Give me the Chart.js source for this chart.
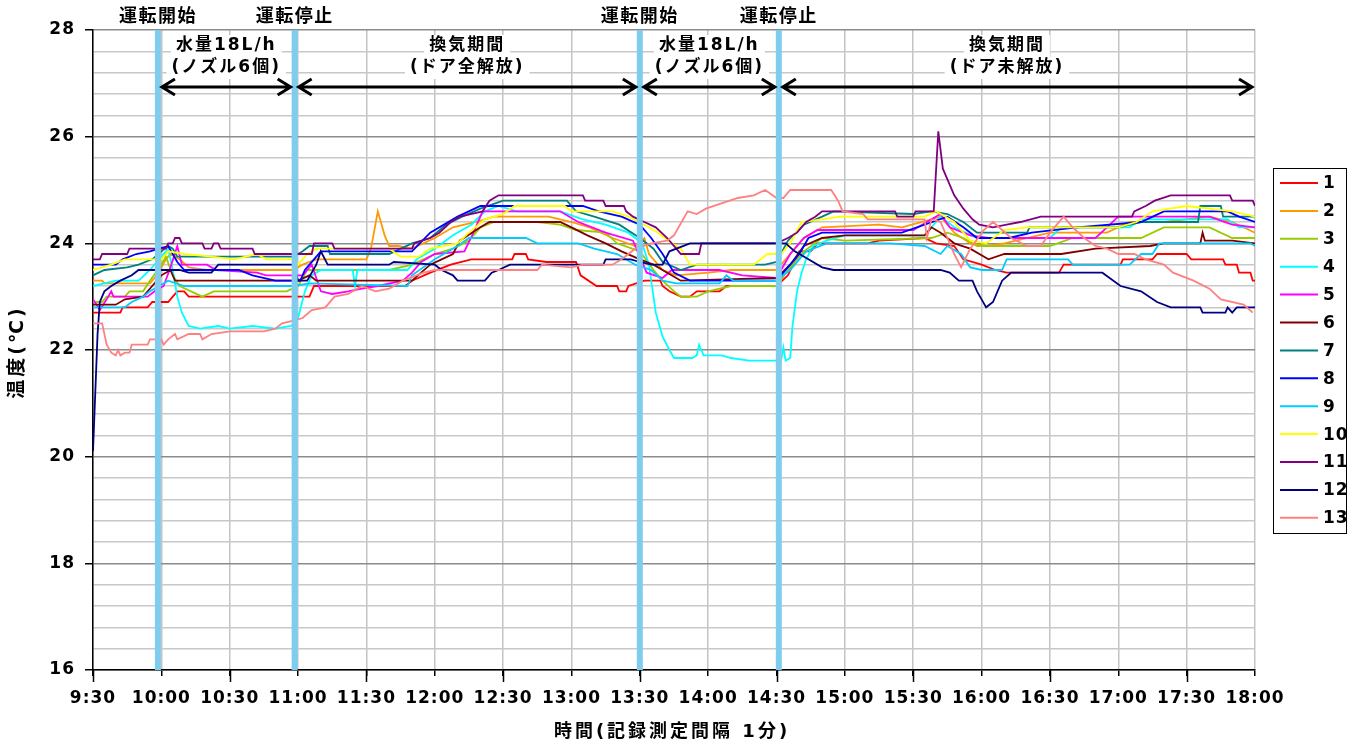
<!DOCTYPE html>
<html lang="ja">
<head>
<meta charset="utf-8">
<title>温度推移</title>
<script src="https://cdn.jsdelivr.net/npm/chart.js@4.4.1/dist/chart.umd.min.js"></script>
<style>
  html, body { margin: 0; padding: 0; background: #fff; }
  #wrap { width: 1356px; height: 744px; }
</style>
</head>
<body>
<div id="wrap"><canvas id="chart" width="1356" height="744"></canvas></div>
<script>
// x = minutes after 9:30, y = temperature (°C)
const timeLabels = ['9:30', '10:00', '10:30', '11:00', '11:30', '12:00', '12:30', '13:00', '13:30',
  '14:00', '14:30', '15:00', '15:30', '16:00', '16:30', '17:00', '17:30', '18:00'];
const seriesNames = ['1', '2', '3', '4', '5', '6', '7', '8', '9', '10', '11', '12', '13'];

// spray on / off times and the period notes between them
const eventTimes = [28.5, 88.5, 240, 301, 510];
const eventNames = ['運転開始', '運転停止', '運転開始', '運転停止'];
const periodNotes = [
  ['水量18L/h', '(ノズル6個)'],
  ['換気期間', '(ドア全解放)'],
  ['水量18L/h', '(ノズル6個)'],
  ['換気期間', '(ドア未解放)']
];

const s1 = [[0,22.7],[12,22.7],[13,22.8],[24,22.8],[26,22.9],[33,22.9],[35,23.0],[37,23.1],[40,23.1],[42,23.0],[95,23.0],[97,23.2],[137,23.2],[140,23.3],[148,23.45],[157,23.6],[166,23.7],[184,23.7],[185,23.8],[190,23.8],[191,23.7],[199,23.65],[212,23.65],[214,23.4],[221,23.2],[230,23.2],[231,23.1],[234,23.1],[235,23.2],[242,23.3],[249,23.3],[250,23.2],[253,23.1],[258,23.0],[262,23.0],[265,23.1],[275,23.1],[278,23.2],[300,23.2],[305,23.4],[310,23.85],[315,23.85],[318,24.0],[340,24.0],[345,24.05],[365,24.1],[370,24.0],[378,23.95],[382,23.7],[390,23.6],[396,23.5],[401,23.45],[424,23.45],[426,23.6],[451,23.6],[452,23.7],[465,23.7],[467,23.8],[480,23.8],[482,23.7],[496,23.7],[497,23.6],[502,23.6],[503,23.45],[508,23.45],[509,23.3],[510,23.3]];
const s2 = [[0,23.3],[4,23.3],[5,23.25],[25,23.25],[28,23.4],[32,23.7],[34,23.8],[38,23.7],[42,23.55],[50,23.5],[88,23.5],[92,23.6],[98,23.7],[120,23.7],[122,23.9],[125,24.6],[128,24.15],[130,23.95],[134,23.95],[140,23.9],[150,24.1],[158,24.3],[168,24.4],[176,24.5],[200,24.5],[210,24.4],[218,24.3],[228,24.1],[238,23.95],[242,24.1],[244,23.8],[250,23.5],[256,23.4],[270,23.45],[280,23.5],[300,23.5],[306,23.8],[312,24.1],[320,24.3],[345,24.35],[355,24.3],[368,24.45],[372,24.5],[378,24.2],[385,24.0],[392,23.95],[400,24.0],[420,24.2],[445,24.2],[455,24.4],[470,24.4],[490,24.5],[500,24.4],[510,24.2]];
const s3 = [[0,22.9],[4,22.9],[6,23.0],[14,23.0],[16,23.1],[22,23.1],[25,23.3],[30,23.6],[32,23.75],[35,23.4],[38,23.2],[43,23.1],[48,23.0],[53,23.1],[85,23.1],[90,23.2],[94,23.5],[130,23.5],[140,23.6],[150,23.8],[158,23.9],[165,24.05],[170,24.3],[176,24.4],[195,24.4],[205,24.35],[212,24.25],[225,24.2],[230,24.0],[240,23.85],[246,23.5],[250,23.3],[255,23.1],[258,23.0],[265,23.0],[270,23.1],[280,23.2],[300,23.2],[305,23.5],[312,23.85],[320,24.1],[330,24.05],[368,24.1],[375,24.2],[382,24.1],[388,23.95],[420,23.95],[430,24.1],[460,24.1],[470,24.3],[490,24.3],[500,24.1],[510,24.1]];
const s4 = [[0,23.2],[10,23.3],[20,23.3],[25,23.5],[30,23.75],[33,23.9],[35,23.5],[37,23.0],[39,22.7],[42,22.45],[47,22.4],[55,22.45],[60,22.4],[70,22.45],[80,22.4],[87,22.45],[90,22.6],[93,23.1],[96,23.4],[100,23.5],[114,23.5],[115,23.2],[116,23.5],[138,23.5],[142,23.7],[150,23.9],[158,24.15],[166,24.35],[172,24.6],[178,24.7],[186,24.6],[205,24.6],[215,24.45],[225,24.35],[235,24.2],[241,24.0],[244,23.6],[247,22.7],[250,22.25],[253,22.0],[255,21.85],[263,21.85],[265,21.9],[266,22.1],[268,21.9],[276,21.9],[280,21.85],[288,21.8],[302,21.8],[303,22.05],[304,21.8],[306,21.85],[307,22.45],[309,23.1],[311,23.45],[313,23.7],[316,23.95],[322,24.05],[330,24.15],[365,24.15],[372,24.5],[378,24.3],[388,24.1],[420,24.1],[425,24.3],[455,24.3],[460,24.45],[498,24.45],[503,24.3],[510,24.3]];
const s5 = [[0,22.95],[3,22.75],[6,22.95],[8,23.1],[9,23.0],[24,23.0],[27,23.1],[31,23.2],[34,23.55],[37,23.95],[39,23.6],[50,23.6],[54,23.5],[72,23.45],[76,23.4],[92,23.4],[96,23.6],[100,23.1],[105,23.05],[112,23.1],[118,23.15],[125,23.2],[136,23.3],[140,23.45],[144,23.65],[150,23.8],[163,23.85],[167,24.2],[171,24.6],[205,24.6],[213,24.4],[225,24.2],[237,24.05],[240,23.75],[243,23.45],[250,23.35],[254,23.5],[275,23.5],[285,23.4],[300,23.35],[306,23.8],[312,24.1],[318,24.25],[360,24.25],[372,24.55],[376,24.3],[385,24.15],[393,24.1],[440,24.1],[445,24.3],[450,24.5],[490,24.5],[500,24.35],[510,24.3]];
const s6 = [[0,22.85],[10,22.85],[14,22.95],[22,23.0],[26,23.2],[30,23.4],[34,23.5],[36,23.3],[90,23.3],[95,23.4],[98,23.3],[140,23.3],[144,23.45],[148,23.6],[153,23.7],[158,23.8],[161,24.05],[170,24.3],[174,24.4],[205,24.4],[210,24.3],[217,24.15],[225,24.0],[232,23.85],[240,23.7],[246,23.6],[252,23.45],[258,23.3],[300,23.35],[306,23.6],[312,23.95],[320,24.1],[330,24.15],[365,24.15],[368,24.3],[372,24.2],[378,24.0],[385,23.9],[393,23.7],[400,23.8],[425,23.8],[440,23.9],[464,23.95],[470,24.0],[486,24.0],[487,24.2],[488,24.05],[500,24.05],[510,24.0]];
const s7 = [[0,23.4],[5,23.5],[15,23.55],[20,23.6],[26,23.7],[30,23.85],[33,23.95],[35,23.9],[37,23.75],[88,23.75],[92,23.85],[95,23.95],[103,23.95],[104,23.8],[130,23.8],[140,24.0],[148,24.1],[155,24.35],[162,24.5],[170,24.65],[180,24.8],[208,24.8],[212,24.6],[220,24.5],[231,24.35],[240,24.1],[246,23.9],[250,23.65],[258,23.5],[265,23.6],[295,23.6],[300,23.65],[305,24.05],[312,24.35],[320,24.5],[325,24.6],[360,24.55],[368,24.6],[375,24.55],[382,24.4],[388,24.2],[410,24.2],[411,24.3],[450,24.3],[460,24.4],[485,24.4],[486,24.7],[495,24.7],[496,24.5],[510,24.5]];
const s8 = [[0,23.6],[10,23.6],[13,23.7],[19,23.8],[25,23.85],[33,23.95],[37,23.65],[40,23.5],[64,23.5],[70,23.4],[80,23.3],[91,23.3],[93,23.5],[97,23.7],[100,23.85],[140,23.85],[148,24.2],[160,24.5],[170,24.7],[215,24.7],[222,24.6],[232,24.5],[240,24.35],[245,24.1],[250,23.8],[255,23.45],[262,23.3],[300,23.3],[306,23.6],[310,23.8],[314,24.1],[320,24.2],[355,24.2],[375,24.5],[382,24.3],[388,24.1],[402,24.1],[412,24.2],[432,24.3],[460,24.4],[470,24.6],[498,24.6],[503,24.5],[510,24.4]];
const s9 = [[0,22.8],[14,22.8],[17,22.9],[22,23.0],[25,23.1],[29,23.2],[33,23.3],[40,23.2],[88,23.2],[95,23.25],[138,23.2],[140,23.4],[150,23.7],[160,23.95],[165,24.1],[190,24.1],[195,24.0],[213,24.0],[220,23.9],[230,23.8],[238,23.6],[245,23.5],[250,23.3],[256,23.25],[275,23.25],[278,23.4],[281,23.3],[300,23.3],[306,23.5],[313,23.85],[322,24.0],[350,24.0],[365,23.95],[372,23.8],[375,23.95],[381,23.8],[385,23.55],[390,23.5],[399,23.5],[401,23.7],[428,23.7],[430,23.6],[455,23.6],[460,23.8],[465,23.8],[468,24.0],[508,24.0],[510,23.95]];
const s10 = [[0,23.5],[8,23.6],[14,23.7],[30,23.7],[33,23.85],[40,23.8],[52,23.75],[62,23.7],[72,23.8],[76,23.7],[88,23.7],[90,23.6],[94,23.8],[98,23.9],[130,23.9],[135,23.75],[143,23.75],[148,23.9],[160,24.0],[165,24.2],[172,24.45],[180,24.55],[185,24.7],[207,24.7],[210,24.6],[228,24.6],[235,24.5],[242,24.35],[248,24.2],[254,24.0],[258,23.9],[262,23.6],[290,23.6],[296,23.8],[302,23.8],[306,24.0],[311,24.4],[320,24.45],[328,24.5],[365,24.5],[370,24.6],[378,24.4],[385,24.05],[392,24.0],[400,24.25],[410,24.3],[450,24.3],[458,24.4],[465,24.6],[480,24.7],[500,24.6],[510,24.5]];
const s11 = [[0,23.7],[3,23.7],[4,23.8],[15,23.8],[16,23.9],[32,23.9],[33,24.0],[35,24.0],[36,24.1],[38,24.1],[39,24.0],[48,24.0],[49,23.9],[52,23.9],[53,24.0],[55,24.0],[56,23.9],[70,23.9],[71,23.8],[96,23.8],[97,24.0],[105,24.0],[106,23.9],[140,23.9],[141,24.0],[148,24.1],[152,24.2],[157,24.4],[161,24.5],[171,24.6],[174,24.8],[178,24.9],[215,24.9],[216,24.8],[224,24.8],[225,24.7],[233,24.7],[234,24.6],[237,24.5],[242,24.4],[247,24.3],[252,24.1],[256,23.9],[258,23.8],[266,23.8],[267,24.0],[300,24.0],[305,24.1],[309,24.2],[313,24.4],[317,24.5],[320,24.6],[352,24.6],[353,24.5],[360,24.5],[361,24.6],[369,24.6],[371,26.1],[373,25.4],[375,25.2],[378,24.9],[382,24.65],[386,24.45],[389,24.35],[395,24.3],[401,24.35],[407,24.4],[416,24.5],[456,24.5],[457,24.6],[462,24.7],[466,24.8],[473,24.9],[499,24.9],[500,24.8],[509,24.8],[510,24.7]];
const s12 = [[0,20.1],[1,21.2],[2,22.3],[3,22.9],[5,23.1],[8,23.2],[12,23.3],[17,23.4],[20,23.5],[38,23.5],[42,23.45],[52,23.45],[55,23.6],[88,23.6],[90,23.3],[94,23.3],[98,23.6],[100,23.85],[103,23.6],[130,23.6],[132,23.65],[150,23.6],[153,23.5],[158,23.4],[160,23.3],[172,23.3],[175,23.45],[178,23.5],[183,23.6],[224,23.6],[225,23.7],[236,23.7],[240,23.65],[245,23.6],[250,23.6],[253,23.85],[262,24.0],[304,24.0],[308,23.85],[314,23.7],[320,23.55],[325,23.5],[372,23.5],[376,23.45],[380,23.3],[386,23.3],[388,23.1],[390,22.95],[392,22.8],[395,22.9],[399,23.3],[403,23.45],[443,23.45],[451,23.2],[460,23.1],[467,22.9],[473,22.8],[486,22.8],[487,22.7],[497,22.7],[498,22.8],[500,22.7],[502,22.8],[510,22.8]];
const s13 = [[0,22.5],[4,22.5],[6,22.1],[8,21.95],[10,21.9],[11,22.0],[12,21.9],[14,21.95],[16,21.95],[17,22.1],[24,22.1],[25,22.2],[30,22.2],[31,22.1],[33,22.2],[36,22.3],[37,22.2],[42,22.3],[47,22.3],[48,22.2],[52,22.3],[60,22.35],[75,22.35],[80,22.4],[83,22.5],[88,22.55],[92,22.6],[96,22.75],[102,22.8],[106,23.0],[112,23.05],[118,23.2],[124,23.1],[130,23.15],[136,23.3],[145,23.45],[150,23.5],[195,23.5],[197,23.6],[210,23.55],[215,23.6],[228,23.6],[232,23.7],[238,23.9],[245,24.0],[252,24.05],[255,24.15],[261,24.6],[265,24.55],[269,24.65],[283,24.85],[290,24.9],[295,25.0],[300,24.85],[303,24.85],[306,25.0],[324,25.0],[327,24.8],[329,24.6],[338,24.55],[340,24.45],[365,24.45],[366,24.1],[368,24.45],[372,24.4],[375,24.1],[378,23.8],[381,23.55],[385,23.9],[391,24.25],[395,24.4],[399,24.25],[403,24.1],[410,23.95],[416,23.95],[420,24.2],[426,24.5],[430,24.3],[435,24.1],[440,23.95],[445,23.9],[450,23.8],[457,23.8],[462,23.7],[470,23.6],[474,23.45],[483,23.3],[490,23.15],[495,22.95],[505,22.85],[509,22.7]];

const allSeries = [s1, s2, s3, s4, s5, s6, s7, s8, s9, s10, s11, s12, s13];
const colors = ['#ff0000', '#ff9900', '#99cc00', '#00ffff', '#ff00ff', '#800000', '#008080',
  '#0000ff', '#00ccff', '#ffff00', '#800080', '#000080', '#ff8080'];

const FONT = "'DejaVu Sans', 'Noto Sans CJK JP', sans-serif";
Chart.defaults.font.family = FONT;
Chart.defaults.font.weight = 'bold';
Chart.defaults.font.size = 17;
Chart.defaults.color = '#000';

function isMajor(v) {
  const r = Math.round(v);
  return Math.abs(v - r) < 1e-6 && r % 2 === 0;
}

function drawArrow(ctx, x1, x2, y) {
  ctx.beginPath();
  ctx.moveTo(x1, y); ctx.lineTo(x2, y);
  ctx.moveTo(x1 + 13, y - 8); ctx.lineTo(x1, y); ctx.lineTo(x1 + 13, y + 8);
  ctx.moveTo(x2 - 13, y - 8); ctx.lineTo(x2, y); ctx.lineTo(x2 - 13, y + 8);
  ctx.stroke();
}

const overlay = {
  id: 'overlay',
  beforeDraw(chart) {
    chart.ctx.letterSpacing = '1px';
  },
  afterDatasetsDraw(chart) {
    const {ctx, chartArea: a, scales: {x}} = chart;
    ctx.save();
    ctx.fillStyle = '#7fcdee';
    eventTimes.slice(0, 4).forEach(t => {
      const px = x.getPixelForValue(t);
      ctx.fillRect(px - 3, a.top, 6, a.bottom - a.top);
    });
    ctx.restore();
  },
  afterDraw(chart) {
    const {ctx, chartArea: a, scales: {x}} = chart;
    ctx.save();

    // longer tick marks every hour from 9:30
    ctx.strokeStyle = '#000';
    ctx.lineWidth = 1.5;
    for (let t = 0; t <= 510; t += 60) {
      const px = Math.round(x.getPixelForValue(t)) + 0.5;
      ctx.beginPath();
      ctx.moveTo(px, a.bottom);
      ctx.lineTo(px, a.bottom + 12);
      ctx.stroke();
    }

    ctx.letterSpacing = '1.5px';
    ctx.fillStyle = '#000';
    ctx.textAlign = 'center';
    ctx.textBaseline = 'middle';

    // event labels above the plot
    ctx.font = 'bold 18px ' + FONT;
    eventNames.forEach((name, i) => {
      ctx.fillText(name, x.getPixelForValue(eventTimes[i]), 17);
    });

    // period notes and arrows
    ctx.letterSpacing = '2px';
    ctx.font = 'bold 17px ' + FONT;
    ctx.strokeStyle = '#000';
    ctx.lineWidth = 3;
    ctx.lineJoin = 'miter';
    periodNotes.forEach((lines, i) => {
      const x1 = x.getPixelForValue(eventTimes[i]);
      const x2 = x.getPixelForValue(eventTimes[i + 1]);
      const mid = (x1 + x2) / 2 - (i === 3 ? 10 : 0);
      lines.forEach((txt, j) => {
        const y = 46 + j * 22;
        const w = ctx.measureText(txt).width;
        ctx.fillStyle = '#fff';
        ctx.fillRect(mid - w / 2 - 5, y - 11, w + 10, 22);
        ctx.fillStyle = '#000';
        ctx.fillText(txt, mid, y);
      });
      drawArrow(ctx, x1 + 4, i === 3 ? a.right - 3 : x2 - 4, 87);
    });

    // axis titles
    ctx.letterSpacing = '3px';
    ctx.font = 'bold 18px ' + FONT;
    ctx.fillText('時間(記録測定間隔 1分)', (a.left + a.right) / 2 - 2, 732);
    ctx.save();
    ctx.font = 'bold 19px ' + FONT;
    ctx.translate(18, 352);
    ctx.rotate(-Math.PI / 2);
    ctx.fillText('温度(℃)', 0, 0);
    ctx.restore();

    // legend box
    ctx.letterSpacing = '1px';
    ctx.strokeStyle = '#000';
    ctx.lineWidth = 1;
    ctx.fillStyle = '#fff';
    ctx.fillRect(1273, 168, 73, 365);
    ctx.strokeRect(1273.5, 168.5, 73, 365);
    ctx.font = 'bold 17px ' + FONT;
    ctx.textAlign = 'left';
    chart.data.datasets.forEach((ds, i) => {
      const y = 183 + i * 27.9;
      ctx.strokeStyle = ds.borderColor;
      ctx.lineWidth = 2;
      ctx.beginPath();
      ctx.moveTo(1280, y); ctx.lineTo(1318, y);
      ctx.stroke();
      ctx.fillStyle = '#000';
      ctx.fillText(ds.label, 1323, y + 1);
    });
    ctx.restore();
  }
};

const datasets = allSeries.map((s, i) => ({
  label: seriesNames[i],
  data: s.map(p => ({x: p[0], y: p[1]})),
  borderColor: colors[i],
  backgroundColor: colors[i],
  borderWidth: 1.8,
  pointRadius: 0,
  tension: 0,
  order: allSeries.length - i
}));

new Chart(document.getElementById('chart'), {
  type: 'line',
  data: {datasets},
  options: {
    responsive: false,
    animation: false,
    devicePixelRatio: 1,
    layout: {padding: {top: 30, right: 101, left: 0, bottom: 0}},
    plugins: {legend: {display: false}, tooltip: {enabled: false}},
    scales: {
      x: {
        type: 'linear', min: 0, max: 510,
        afterFit(s) { s.height = 74; },
        border: {color: '#000', width: 1.5},
        grid: {color: '#c4c4c4', lineWidth: 1.5, tickLength: 6, tickColor: '#000'},
        ticks: {
          stepSize: 30, autoSkip: false, maxRotation: 0, padding: 12,
          font: {size: 17, weight: 'bold'},
          callback: v => timeLabels[Math.round(v / 30)] ?? ''
        }
      },
      y: {
        min: 16, max: 28,
        afterFit(s) { s.width = 93; },
        border: {color: '#000', width: 1.5},
        grid: {
          color: c => isMajor(c.tick.value) ? '#8c8c8c' : '#c8c8c8',
          lineWidth: 1.5, tickLength: 8,
          tickColor: c => isMajor(c.tick.value) ? '#000' : 'rgba(0,0,0,0)'
        },
        ticks: {
          stepSize: 0.4, autoSkip: false, padding: 10,
          font: {size: 17, weight: 'bold'},
          callback: v => isMajor(v) ? String(Math.round(v)) : ''
        }
      }
    }
  },
  plugins: [overlay]
});
</script>
</body>
</html>
